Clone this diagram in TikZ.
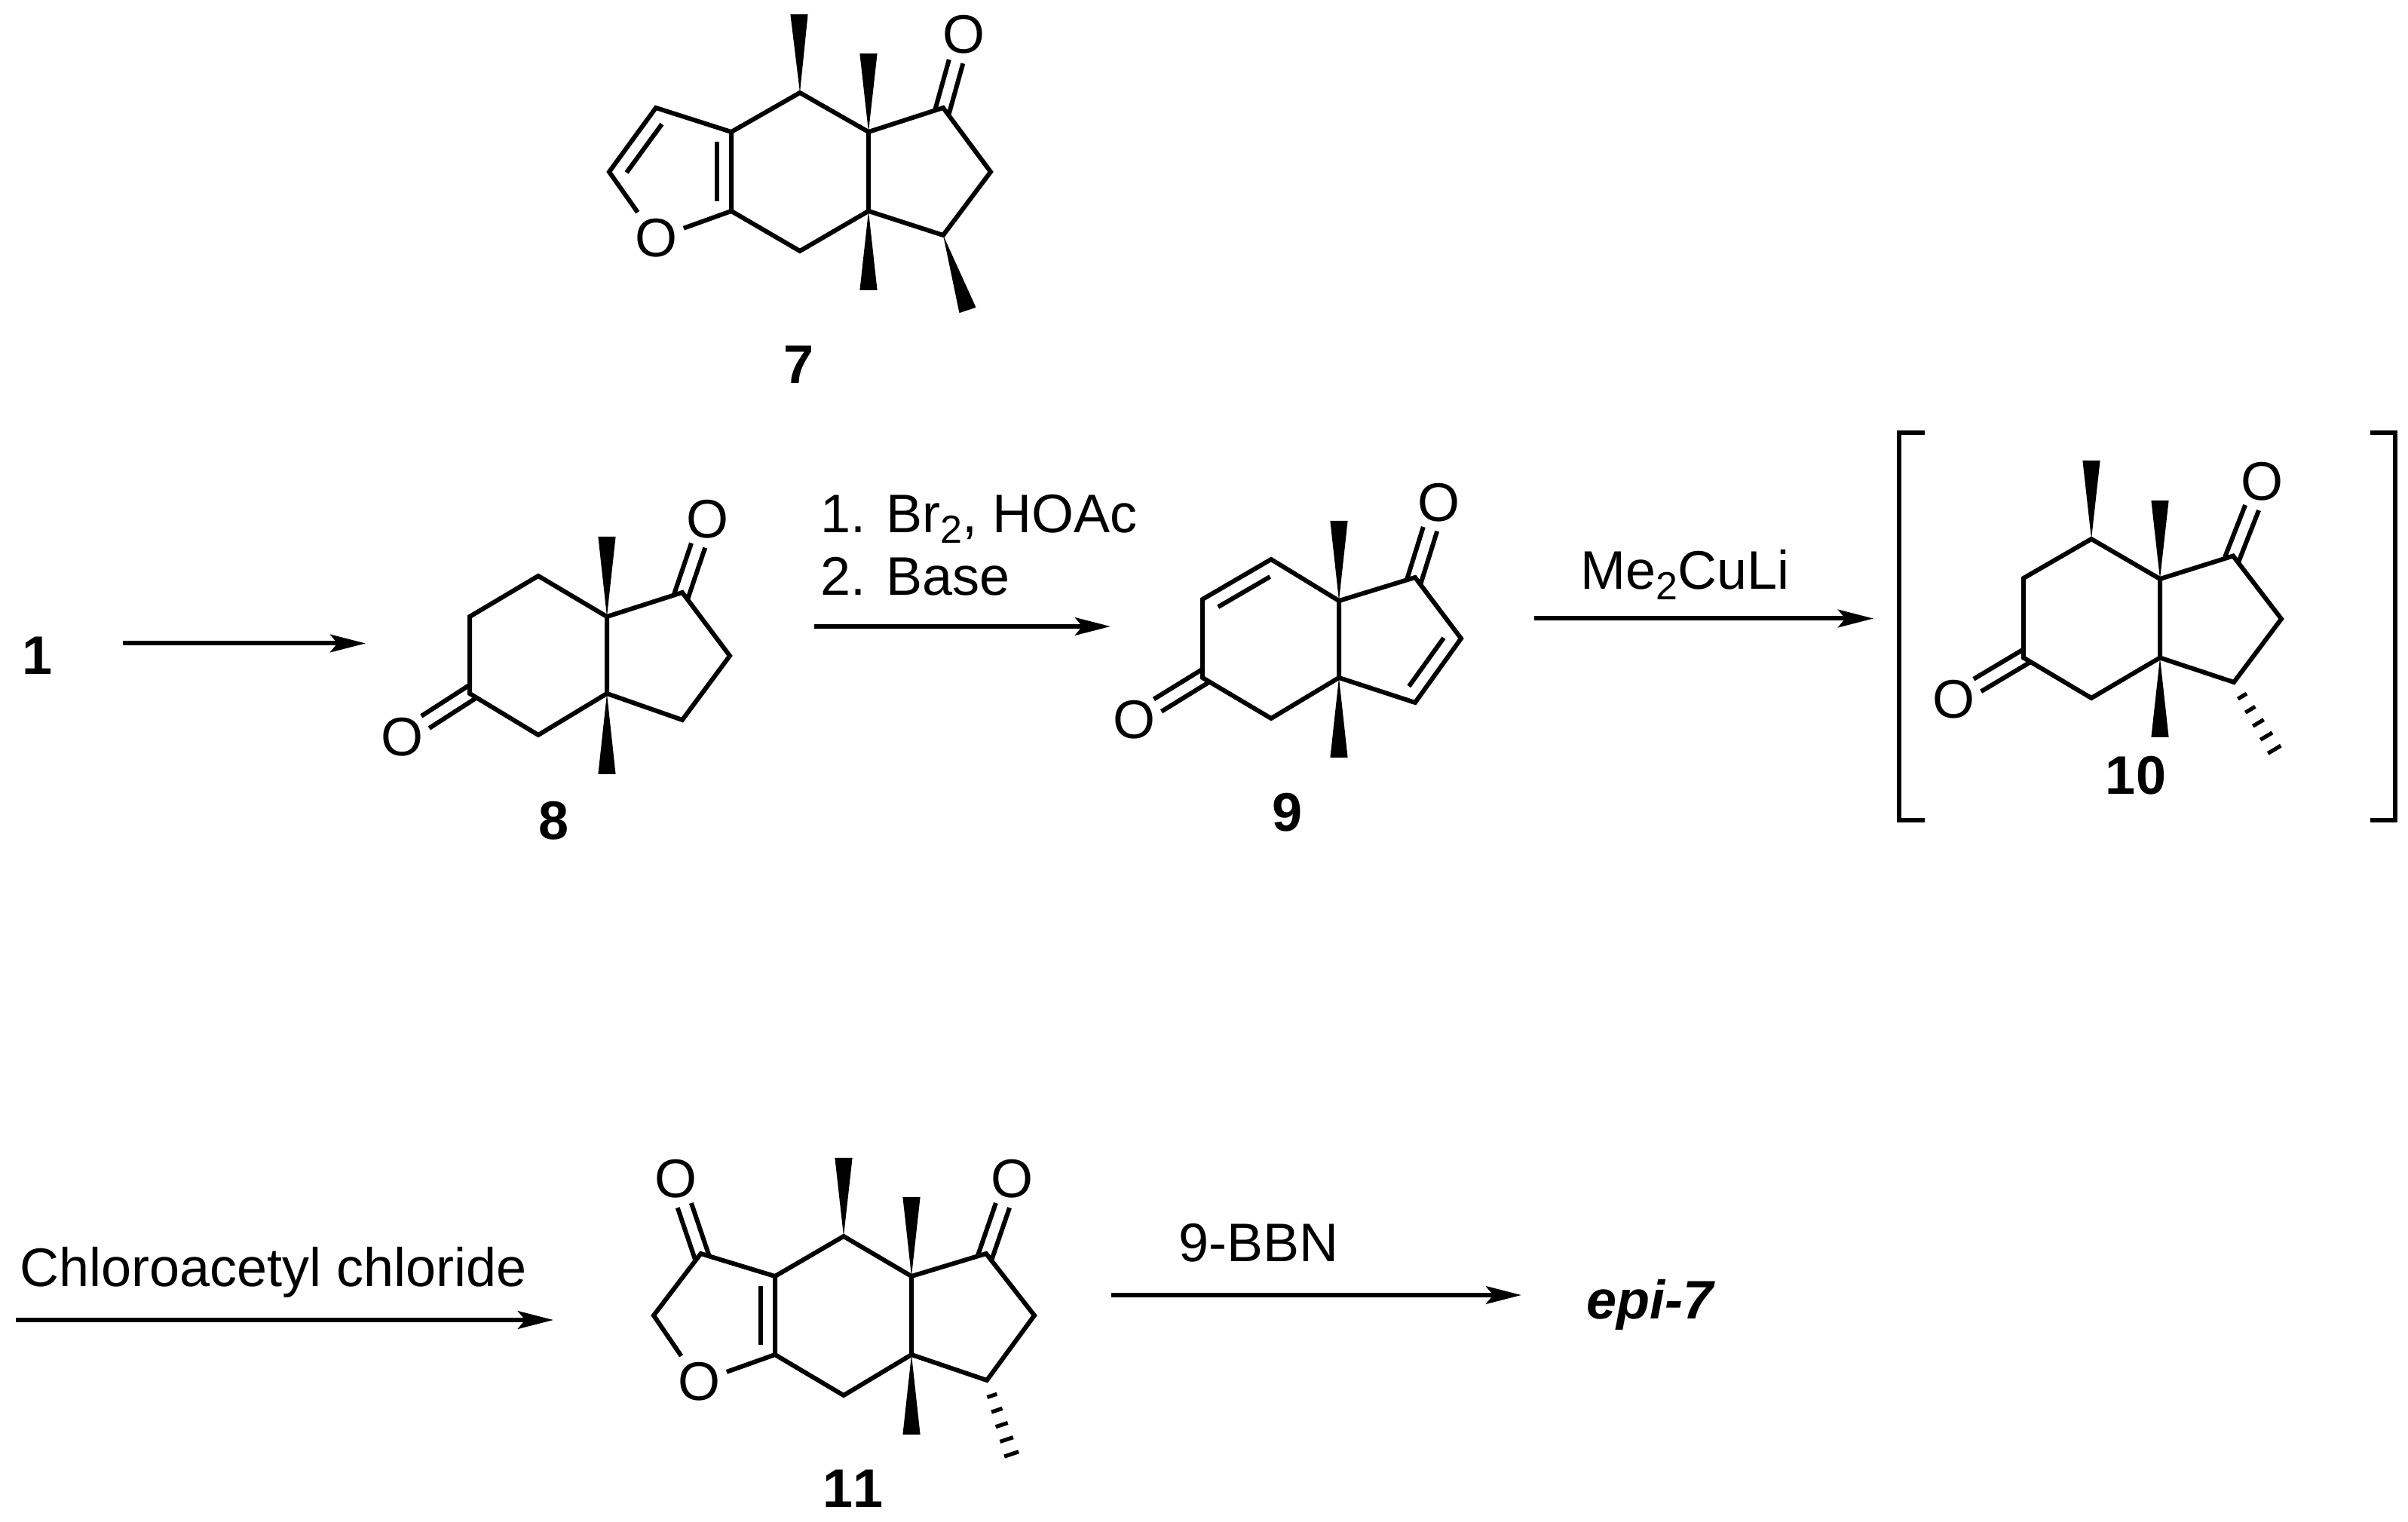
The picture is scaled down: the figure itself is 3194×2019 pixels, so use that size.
\documentclass[tikz,border=0pt]{standalone}
\usepackage{fontspec}
\setmainfont[Kerning=Off]{Liberation Sans}
\usetikzlibrary{calc,arrows.meta}
\tikzset{
    bond/.style={line width=1.5pt,line join=miter},
    rxn/.style={line width=1.5pt,-{Stealth[length=11.75pt,width=5.9pt,inset=2.4pt]}},
    bracket/.style={line width=1.6pt,line join=miter},
    atom/.style={font=\fontsize{18}{22}\selectfont,inner sep=2pt},
    reagent/.style={font=\fontsize{18}{22}\selectfont,inner sep=0pt,anchor=base west},
    compound/.style={font=\fontsize{18}{22}\selectfont\bfseries,inner sep=0pt,anchor=base},
}
\newcommand{\subnum}[1]{\raisebox{-3.5pt}{\fontsize{13}{13}\selectfont #1}}
\newcommand{\wedgebond}[2]{\fill (#1) -- ($(#2)!2.9pt!90:(#1)$) -- ($(#2)!2.9pt!-90:(#1)$) -- cycle;}
\newcommand{\hashbond}[2]{\foreach \p/\w in {.2/1.7pt,.39/1.9pt,.58/2.1pt,.77/2.3pt,.96/2.5pt}
    \draw[line width=1.3pt] ($(#1)!\p!(#2)!\w!90:(#2)$) -- ($(#1)!\p!(#2)!\w!-90:(#2)$);}
\newcommand{\ketone}[2]{\draw[bond,shorten <=-1.4pt,shorten >=9.25pt] ($(#1)!2.4pt!90:(#2)$) -- ($(#2)!2.4pt!-90:(#1)$);
    \draw[bond,shorten <=-1.4pt,shorten >=9.25pt] ($(#1)!2.4pt!-90:(#2)$) -- ($(#2)!2.4pt!90:(#1)$);}
\newcommand{\innerbond}[2]{\draw[bond,shorten <=3.2pt,shorten >=3.2pt] ($(#1)!4.8pt!90:(#2)$) -- ($(#2)!4.8pt!-90:(#1)$);}
\begin{document}
\begin{tikzpicture}[x=0.25pt,y=-0.25pt]
    \useasboundingbox (0,0) rectangle (3194,2019);
    %% compound 7
    \coordinate (g1) at (1061,123);
    \coordinate (g2) at (1152,175);
    \coordinate (g3) at (1251,143);
    \coordinate (g4) at (1314,228);
    \coordinate (g5) at (1251,312);
    \coordinate (g6) at (1152,280);
    \coordinate (g7) at (1061,333);
    \coordinate (g8) at (970,280);
    \coordinate (g9) at (970,175);
    \coordinate (g10) at (870,143);
    \coordinate (g11) at (808,228);
    \coordinate (gm1) at (1060,19);
    \coordinate (gm2) at (1152,71);
    \coordinate (gm3) at (1152,385);
    \coordinate (gm4) at (1283.5,411.5);
    \node[atom] (gketo) at (1278,46) {O};
    \node[atom] (gfuro) at (870,316) {O};
    \draw[bond] (g1) -- (g2) -- (g3) -- (g4) -- (g5) -- (g6) -- (g7) -- (g8) -- (g9) -- cycle;
    \draw[bond] (g2) -- (g6);
    \draw[bond] (g9) -- (g10) -- (g11) -- (gfuro) -- (g8);
    \innerbond{g8}{g9}
    \innerbond{g10}{g11}
    \ketone{g3}{gketo}
    \wedgebond{g1}{gm1}
    \wedgebond{g2}{gm2}
    \wedgebond{g6}{gm3}
    \wedgebond{g5}{gm4}
    \node[compound] (seven) at (1060,509) {7};
    %% 1 to 8
    \node[compound] (one) at (50,895) {1};
    \coordinate (ra) at (163,853.5);
    \coordinate (rb) at (485,853.5);
    \draw[rxn] (ra) -- (rb);
    %% compound 8
    \coordinate (h1) at (714,764);
    \coordinate (h2) at (805,818);
    \coordinate (h3) at (905,786);
    \coordinate (h4) at (968,870);
    \coordinate (h5) at (905,955);
    \coordinate (h6) at (805,920);
    \coordinate (h7) at (714,975);
    \coordinate (h8) at (623,920);
    \coordinate (h9) at (623,818);
    \coordinate (hm1) at (805,712);
    \coordinate (hm2) at (805,1027);
    \node[atom] (hketa) at (938,688.5) {O};
    \node[atom] (hketb) at (533,978) {O};
    \draw[bond] (h1) -- (h2) -- (h6) -- (h7) -- (h8) -- (h9) -- cycle;
    \draw[bond] (h2) -- (h3) -- (h4) -- (h5) -- (h6);
    \ketone{h3}{hketa}
    \ketone{h8}{hketb}
    \wedgebond{h2}{hm1}
    \wedgebond{h6}{hm2}
    \node[compound] (eight) at (735,1114) {8};
    %% bromination
    \node[reagent] (brstep) at (1088,707) {1. Br\subnum{2}, HOAc};
    \node[reagent] (basestep) at (1088,790) {2. Base};
    \coordinate (rc) at (1080,831);
    \coordinate (rd) at (1473,831);
    \draw[rxn] (rc) -- (rd);
    %% compound 9
    \coordinate (i1) at (1686,742);
    \coordinate (i2) at (1776,797);
    \coordinate (i3) at (1877,766);
    \coordinate (i4) at (1938,847);
    \coordinate (i5) at (1877,932);
    \coordinate (i6) at (1776,899);
    \coordinate (i7) at (1686,953);
    \coordinate (i8) at (1595,899);
    \coordinate (i9) at (1595,795);
    \coordinate (im1) at (1776,691);
    \coordinate (im2) at (1776,1005);
    \node[atom] (iketa) at (1908,666.5) {O};
    \node[atom] (iketb) at (1504,955) {O};
    \draw[bond] (i1) -- (i2) -- (i6) -- (i7) -- (i8) -- (i9) -- cycle;
    \draw[bond] (i2) -- (i3) -- (i4) -- (i5) -- (i6);
    \innerbond{i1}{i9}
    \innerbond{i5}{i4}
    \ketone{i3}{iketa}
    \ketone{i8}{iketb}
    \wedgebond{i2}{im1}
    \wedgebond{i6}{im2}
    \node[compound] (nine) at (1708,1103) {9};
    %% cuprate
    \node[reagent] (cuprate) at (2096,782) {Me\subnum{2}CuLi};
    \coordinate (re) at (2035,820.5);
    \coordinate (rf) at (2485,820.5);
    \draw[rxn] (re) -- (rf);
    %% compound 10
    \coordinate (j1) at (2774,715);
    \coordinate (j2) at (2865,768);
    \coordinate (j3) at (2962,737.5);
    \coordinate (j4) at (3026,821);
    \coordinate (j5) at (2963,905);
    \coordinate (j6) at (2865,872.5);
    \coordinate (j7) at (2774,926);
    \coordinate (j8) at (2684,872.5);
    \coordinate (j9) at (2684,767);
    \coordinate (jm1) at (2774,611);
    \coordinate (jm2) at (2865,664);
    \coordinate (jm3) at (2865,978);
    \coordinate (jm4) at (3019,998);
    \node[atom] (jketa) at (3000.6,639) {O};
    \node[atom] (jketb) at (2591,928) {O};
    \draw[bond] (j1) -- (j2) -- (j6) -- (j7) -- (j8) -- (j9) -- cycle;
    \draw[bond] (j2) -- (j3) -- (j4) -- (j5) -- (j6);
    \ketone{j3}{jketa}
    \ketone{j8}{jketb}
    \wedgebond{j1}{jm1}
    \wedgebond{j2}{jm2}
    \wedgebond{j6}{jm3}
    \hashbond{j5}{jm4}
    \node[compound] (ten) at (2833,1053.5) {10};
    %% brackets
    \coordinate (bla) at (2553,574);
    \coordinate (blb) at (2519,574);
    \coordinate (blc) at (2519,1088);
    \coordinate (bld) at (2553,1088);
    \coordinate (bra) at (3144,574);
    \coordinate (brb) at (3177,574);
    \coordinate (brc) at (3177,1088);
    \coordinate (brd) at (3144,1088);
    \draw[bracket] (bla) -- (blb) -- (blc) -- (bld);
    \draw[bracket] (bra) -- (brb) -- (brc) -- (brd);
    %% acylation
    \node[reagent] (acyl) at (26,1707) {Chloroacetyl chloride};
    \coordinate (rg) at (21,1751);
    \coordinate (rh) at (734,1751);
    \draw[rxn] (rg) -- (rh);
    %% compound 11
    \coordinate (k1) at (1119,1640);
    \coordinate (k2) at (1209,1693);
    \coordinate (k3) at (1308,1663);
    \coordinate (k4) at (1372,1745);
    \coordinate (k5) at (1309,1831);
    \coordinate (k6) at (1209,1797);
    \coordinate (k7) at (1119,1851);
    \coordinate (k8) at (1028,1797);
    \coordinate (k9) at (1028,1693);
    \coordinate (k10) at (929.5,1663);
    \coordinate (k11) at (867,1745);
    \coordinate (km1) at (1119,1536);
    \coordinate (km2) at (1209,1588);
    \coordinate (km3) at (1209,1903);
    \coordinate (km4) at (1343,1933);
    \node[atom] (kketa) at (1342,1564) {O};
    \node[atom] (kketb) at (896,1564) {O};
    \node[atom] (kfuro) at (927,1833) {O};
    \draw[bond] (k1) -- (k2) -- (k6) -- (k7) -- (k8) -- (k9) -- cycle;
    \draw[bond] (k2) -- (k3) -- (k4) -- (k5) -- (k6);
    \draw[bond] (k9) -- (k10) -- (k11) -- (kfuro) -- (k8);
    \innerbond{k8}{k9}
    \ketone{k3}{kketa}
    \ketone{k10}{kketb}
    \wedgebond{k1}{km1}
    \wedgebond{k2}{km2}
    \wedgebond{k6}{km3}
    \hashbond{k5}{km4}
    \node[compound] (eleven) at (1132,2000) {11};
    %% hydroboration
    \node[reagent] (bbn) at (1563,1674) {9-BBN};
    \coordinate (ri) at (1474,1718);
    \coordinate (rj) at (2018,1718);
    \draw[rxn] (ri) -- (rj);
    \node[reagent,font=\fontsize{18}{22}\selectfont\bfseries\itshape] (epi) at (2104,1750) {epi-7};
\end{tikzpicture}
\end{document}
